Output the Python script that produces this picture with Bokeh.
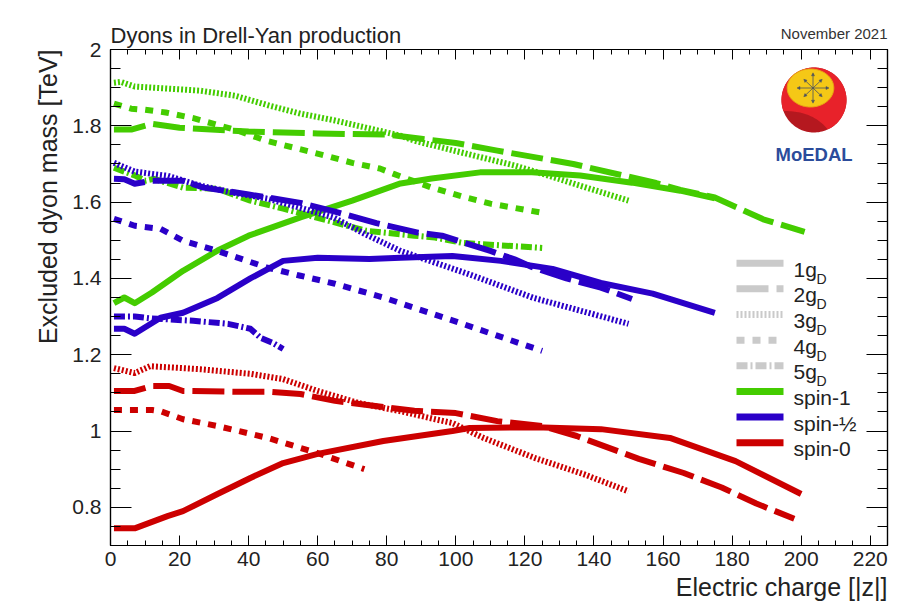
import numpy as np
from bokeh.plotting import figure
from bokeh.models import (Range1d, LinearAxis, FixedTicker, CustomJSTickFormatter,
                          Label, Arrow, NormalHead, Title)
from bokeh.embed import file_html
from bokeh.resources import INLINE

# ---------------- data ----------------
# spin-1 (green)
s1_1gD_x = [1, 4, 7, 12, 21, 31, 40, 55, 70, 84, 93, 107, 122, 136, 151, 165, 175]
s1_1gD_y = [1.335, 1.35, 1.335, 1.363, 1.42, 1.473, 1.512, 1.56, 1.604, 1.649, 1.662, 1.678, 1.678, 1.670, 1.651, 1.63, 1.61]
s1_2gD_x = [1, 6, 12, 20, 40, 60, 80, 90, 100, 112, 134, 158, 165, 175, 189, 201]
s1_2gD_y = [1.79, 1.79, 1.805, 1.795, 1.785, 1.78, 1.777, 1.766, 1.755, 1.735, 1.70, 1.65, 1.632, 1.612, 1.555, 1.522]
s1_3gD_x = [1, 3, 7, 26, 36, 46, 55, 65, 75, 84, 88, 103, 117, 127, 136, 150]
s1_3gD_y = [1.913, 1.915, 1.903, 1.892, 1.879, 1.853, 1.832, 1.814, 1.793, 1.774, 1.761, 1.727, 1.696, 1.669, 1.643, 1.604]
s1_4gD_x = [1, 6, 10, 16, 24, 37, 45, 53, 63, 70, 78, 82, 93, 103, 110, 125]
s1_4gD_y = [1.858, 1.845, 1.842, 1.835, 1.82, 1.787, 1.761, 1.743, 1.72, 1.703, 1.688, 1.674, 1.638, 1.612, 1.596, 1.572]
s1_5gD_x = [1, 7, 10, 12.5, 21, 31, 40.5, 50, 74, 88, 94, 102, 125]
s1_5gD_y = [1.69, 1.67, 1.656, 1.661, 1.638, 1.635, 1.604, 1.583, 1.525, 1.512, 1.507, 1.493, 1.48]

# spin-1/2 (blue)
sh_1gD_x = [1, 4, 7, 14.5, 21, 31, 40.5, 50, 60, 75, 84, 99, 113, 128, 142, 157, 175]
sh_1gD_y = [1.268, 1.268, 1.255, 1.297, 1.31, 1.349, 1.40, 1.446, 1.454, 1.451, 1.454, 1.459, 1.446, 1.425, 1.388, 1.36, 1.31]
sh_2gD_x = [1, 4, 7, 12, 21, 27, 40, 55, 65, 77, 89, 96, 110, 117, 122, 132, 142, 151]
sh_2gD_y = [1.661, 1.66, 1.648, 1.656, 1.656, 1.638, 1.62, 1.598, 1.575, 1.545, 1.52, 1.512, 1.472, 1.45, 1.43, 1.40, 1.376, 1.346]
sh_3gD_x = [1, 7, 12, 16.5, 26, 35.5, 45.5, 55, 64.5, 74, 84, 103.5, 122.5, 150]
sh_3gD_y = [1.703, 1.68, 1.674, 1.669, 1.643, 1.625, 1.609, 1.585, 1.56, 1.515, 1.472, 1.412, 1.349, 1.281]
sh_4gD_x = [1, 7, 14.5, 21, 31, 45.5, 55, 65, 79, 84, 99, 112, 125]
sh_4gD_y = [1.556, 1.538, 1.53, 1.499, 1.472, 1.428, 1.407, 1.386, 1.35, 1.335, 1.29, 1.25, 1.21]
sh_5gD_x = [1, 7, 12, 24, 34, 40.5, 43.5, 47, 50]
sh_5gD_y = [1.30, 1.30, 1.295, 1.289, 1.281, 1.268, 1.244, 1.231, 1.215]

# spin-0 (red)
s0_1gD_x = [1, 7, 16.5, 21, 31, 40.5, 50, 60, 79, 99, 104, 123, 142, 162, 181, 200]
s0_1gD_y = [0.745, 0.745, 0.777, 0.79, 0.835, 0.877, 0.916, 0.94, 0.974, 1.0, 1.008, 1.01, 1.005, 0.982, 0.921, 0.835]
s0_2gD_x = [1, 7, 12, 17, 21, 36, 46, 55, 65, 79, 88, 100, 112, 125, 135, 153, 166, 177, 187, 198]
s0_2gD_y = [1.105, 1.105, 1.118, 1.118, 1.105, 1.103, 1.103, 1.097, 1.079, 1.063, 1.053, 1.047, 1.026, 1.013, 0.987, 0.927, 0.89, 0.852, 0.81, 0.77]
s0_3gD_x = [1, 7, 11.5, 26, 40.5, 50, 60, 72, 84, 94, 99, 108, 123, 137, 150]
s0_3gD_y = [1.165, 1.152, 1.17, 1.162, 1.15, 1.136, 1.105, 1.073, 1.052, 1.031, 1.021, 0.982, 0.929, 0.887, 0.842]
s0_4gD_x = [1, 12, 14.5, 21, 31, 45.5, 60, 73.5]
s0_4gD_y = [1.055, 1.055, 1.052, 1.031, 1.013, 0.982, 0.942, 0.90]

x_major = list(range(0, 221, 20))
x_minor = list(range(0, 226, 5))
y_major = [0.8, 1.0, 1.2, 1.4, 1.6, 1.8, 2.0]
y_minor = [round(0.7 + 0.05 * i, 2) for i in range(27)]

legend_labels = ["1g", "2g", "3g", "4g", "5g", "spin-1", "spin-\u00bd", "spin-0"]

# ---------------- styles ----------------
GREEN = "#44cc00"
BLUE = "#2a00c8"
RED = "#cc0000"
GREY = "#cacaca"
FONT = "Liberation Sans"
DASH = {1: "solid", 2: "32 8", 3: "2 2", 4: "8 8", 5: "11 3 2 3"}
LW = 6

X0, X1, Y0, Y1 = 0, 225, 0.7, 2.0
FL, FT, FW, FH = 110, 49, 777, 496   # frame position in the picture (px)


def dx(px):
    return X0 + (px - FL) / FW * (X1 - X0)


def dy(py):
    return Y1 - (py - FT) / FH * (Y1 - Y0)


p = figure(frame_width=FW, frame_height=FH,
           x_range=Range1d(X0, X1), y_range=Range1d(Y0, Y1),
           min_border_left=FL, min_border_right=10,
           min_border_top=FT, min_border_bottom=64,
           output_backend="svg", toolbar_location=None,
           background_fill_color="white", border_fill_color="white")
p.xgrid.visible = False
p.ygrid.visible = False
p.outline_line_color = "black"
p.outline_line_width = 1.2

xt = FixedTicker(ticks=x_major, minor_ticks=x_minor)
yt = FixedTicker(ticks=y_major, minor_ticks=y_minor)
yfmt = CustomJSTickFormatter(code="return String(Number(tick.toFixed(2)));")
blankfmt = CustomJSTickFormatter(code="return '';")


def style_axis(ax, tin, tmin, labels=True, standoff=6):
    ax.axis_line_color = "black"
    ax.axis_line_width = 1.2
    ax.major_tick_line_color = "black"
    ax.minor_tick_line_color = "black"
    ax.major_tick_in = tin
    ax.major_tick_out = 0
    ax.minor_tick_in = tmin
    ax.minor_tick_out = 0
    ax.major_label_text_font = FONT
    ax.major_label_text_color = "#222222"
    ax.major_label_standoff = standoff
    if labels:
        ax.major_label_text_font_size = "21px"
    else:
        ax.formatter = blankfmt
        ax.major_label_text_font_size = "0px"
        ax.major_label_standoff = 0


bx = p.xaxis[0]
bx.ticker = xt
style_axis(bx, 10, 5, True, 6)
ly = p.yaxis[0]
ly.ticker = yt
ly.formatter = yfmt
style_axis(ly, 21, 10, True, 9)

tx = LinearAxis(ticker=xt)
style_axis(tx, 10, 5, False)
p.add_layout(tx, "above")
ry = LinearAxis(ticker=yt)
style_axis(ry, 21, 10, False)
p.add_layout(ry, "right")

# date stamp (inner title row, right aligned)
nov = Title(text="November 2021", align="right", text_font=FONT,
            text_font_style="normal", text_font_size="15px", text_color="#333333",
            standoff=16)
p.add_layout(nov, "above")

# main title (outer row, pulled down onto the same line as the date)
p.title.text = "Dyons in Drell-Yan production"
p.title.align = "left"
p.title.text_font = FONT
p.title.text_font_style = "normal"
p.title.text_font_size = "22px"
p.title.text_color = "#222222"
p.title.offset = 0
try:
    p.title.standoff = -67
except Exception:
    p.title.standoff = 0

# axis titles (right aligned like the reference)
ytitle = Title(text="Excluded dyon mass [TeV]", align="right", text_font=FONT,
               text_font_style="normal", text_font_size="25px", text_color="#222222",
               standoff=16)
p.add_layout(ytitle, "left")
xtitle = Title(text="Electric charge [|z|]", align="right", text_font=FONT,
               text_font_style="normal", text_font_size="25px", text_color="#222222",
               standoff=4)
p.add_layout(xtitle, "below")

# ---------------- curves ----------------
series = [
    (GREEN, 1, s1_1gD_x, s1_1gD_y), (GREEN, 2, s1_2gD_x, s1_2gD_y),
    (GREEN, 3, s1_3gD_x, s1_3gD_y), (GREEN, 4, s1_4gD_x, s1_4gD_y),
    (GREEN, 5, s1_5gD_x, s1_5gD_y),
    (BLUE, 1, sh_1gD_x, sh_1gD_y), (BLUE, 2, sh_2gD_x, sh_2gD_y),
    (BLUE, 3, sh_3gD_x, sh_3gD_y), (BLUE, 4, sh_4gD_x, sh_4gD_y),
    (BLUE, 5, sh_5gD_x, sh_5gD_y),
    (RED, 1, s0_1gD_x, s0_1gD_y), (RED, 2, s0_2gD_x, s0_2gD_y),
    (RED, 3, s0_3gD_x, s0_3gD_y), (RED, 4, s0_4gD_x, s0_4gD_y),
]
for col, g, xs, ys in series:
    p.line(xs, ys, line_color=col, line_width=LW, line_dash=DASH[g],
           line_cap="butt", line_join="round")

# ---------------- legend (manual) ----------------
rows = [262.7 + 25.65 * i for i in range(8)]
leg_styles = [(GREY, DASH[1]), (GREY, DASH[2]), (GREY, DASH[3]), (GREY, DASH[4]),
              (GREY, DASH[5]), (GREEN, DASH[1]), (BLUE, DASH[1]), (RED, DASH[1])]
for r, (col, dsh), lab in zip(rows, leg_styles, legend_labels):
    p.line([dx(736), dx(783)], [dy(r), dy(r)], line_color=col, line_width=7,
           line_dash=dsh, line_cap="butt")
    p.add_layout(Label(x=dx(793), y=dy(r + 6), text=lab, text_font=FONT,
                       text_font_size="21px", text_color="#222222",
                       text_align="left", text_baseline="alphabetic"))
    if lab.endswith("g"):
        p.add_layout(Label(x=dx(816), y=dy(r + 15.5), text="D", text_font=FONT,
                           text_font_size="14px", text_color="#222222",
                           text_align="left", text_baseline="alphabetic"))

# ---------------- MoEDAL logo ----------------
cx, cy, rr = 813.5, 99.5, 32.5
t = np.radians(np.linspace(0, 360, 120))
p.patch([dx(v) for v in cx + rr * np.cos(t)], [dy(v) for v in cy + rr * np.sin(t)],
        fill_color="#b5181f", line_color=None)
ta = np.radians(np.linspace(65, -200, 110))
arc_x = list(cx + rr * np.cos(ta))
arc_y = list(cy + rr * np.sin(ta))
sx0, sy0 = arc_x[-1], arc_y[-1]
ex0, ey0 = arc_x[0], arc_y[0]
ctrlx, ctrly = 812, 110
u = np.linspace(0, 1, 30)
bzx = (1 - u) ** 2 * sx0 + 2 * (1 - u) * u * ctrlx + u ** 2 * ex0
bzy = (1 - u) ** 2 * sy0 + 2 * (1 - u) * u * ctrly + u ** 2 * ey0
p.patch([dx(v) for v in arc_x + list(bzx)], [dy(v) for v in arc_y + list(bzy)],
        fill_color="#e8222a", line_color=None)
te = np.radians(np.linspace(0, 360, 100))
p.patch([dx(v) for v in 810 + 23.3 * np.cos(te)], [dy(v) for v in 87.5 + 19 * np.sin(te)],
        fill_color="#f5c816", line_color="#e9a514", line_width=1)
acx, acy = 812.5, 87.5
for ang in range(0, 360, 45):
    a = np.radians(ang)
    L = 16 if ang % 90 == 0 else 13
    ex, ey = acx + L * np.cos(a), acy + L * 0.95 * np.sin(a)
    p.add_layout(Arrow(end=NormalHead(size=3, fill_color="#4a5060", line_color="#4a5060",
                                      line_width=0.5),
                       x_start=dx(acx), y_start=dy(acy), x_end=dx(ex), y_end=dy(ey),
                       line_color="#4a5060", line_width=0.8))
p.add_layout(Label(x=dx(813.5), y=dy(153.5), text="MoEDAL", text_font=FONT,
                   text_font_style="bold", text_font_size="18.5px", text_color="#2b4c9b",
                   text_align="center", text_baseline="alphabetic"))

open("out.html", "w").write(file_html(p, INLINE))
